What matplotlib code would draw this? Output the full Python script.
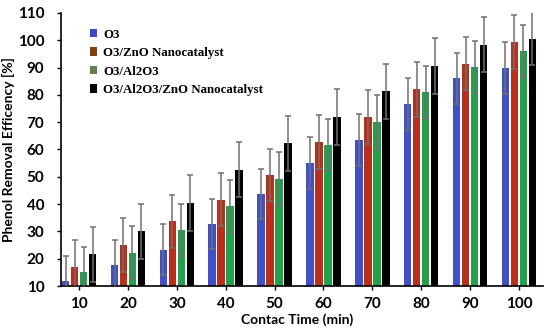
import numpy as np
import matplotlib.pyplot as plt
from matplotlib.patches import Patch

# contact time categories
times = ['10', '20', '30', '40', '50', '60', '70', '80', '90', '100']

# removal efficiency (%) and upper error bar tops
o3 = [11.8, 17.7, 23.3, 32.8, 43.7, 54.9, 63.6, 76.5, 86.0, 89.8]
o3_err = [9.2, 9.3, 9.3, 9.2, 9.3, 9.5, 9.5, 9.5, 9.4, 9.4]
zno = [17.0, 25.0, 33.8, 41.6, 50.8, 62.8, 71.9, 82.0, 91.4, 99.3]
zno_err = [9.8, 9.8, 9.7, 9.7, 9.5, 10.0, 9.8, 10.0, 9.8, 9.9]
al2o3 = [15.0, 22.3, 30.6, 39.3, 49.2, 61.8, 70.1, 81.0, 90.2, 95.9]
al2o3_err = [9.4, 9.7, 9.6, 9.7, 9.8, 9.5, 9.9, 9.7, 9.6, 9.5]
al_zno = [21.6, 30.0, 40.4, 52.6, 62.2, 71.8, 81.3, 90.5, 98.4, 100.6]
al_zno_err = [10.1, 10.0, 10.1, 10.1, 10.1, 10.2, 10.1, 10.2, 10.1, 9.7]

labels = ['O3', 'O3/ZnO Nanocatalyst', 'O3/Al2O3', 'O3/Al2O3/ZnO Nanocatalyst']
bar_colors = ['#3f51c4', '#b8301c', '#23a04c', '#000000']
legend_colors = ['#4048c8', '#7b3f10', '#5e8050', '#000000']

series = [o3, zno, al2o3, al_zno]
errors = [o3_err, zno_err, al2o3_err, al_zno_err]

fig = plt.figure(figsize=(5.5, 3.3), dpi=100)
ax = fig.add_axes([0.111, 0.133, 0.876, 0.828])

x = np.arange(len(times))
step = 0.184
width = 0.155
for i, (vals, errs) in enumerate(zip(series, errors)):
    pos = x + (i - 1.5) * step
    ax.bar(pos, vals, width=width, color=bar_colors[i], zorder=2)
    ax.errorbar(pos, vals, yerr=errs, fmt='none', ecolor='#707070',
                elinewidth=1.1, capsize=2.5, capthick=1.1, zorder=3)

ax.set_xlim(-0.37, 9.49)
ax.set_ylim(10, 110)
ax.set_yticks(range(10, 111, 10))
ax.set_xticks(x)
ax.set_xticklabels(times)

for lab in ax.get_xticklabels() + ax.get_yticklabels():
    lab.set_fontweight('bold')
    lab.set_fontsize(11)
    lab.set_fontfamily('Lato')
ax.tick_params(axis='both', direction='out', length=3, width=1)
ax.tick_params(axis='y', pad=9)
ax.tick_params(axis='x', pad=5)

for s in ['top', 'right']:
    ax.spines[s].set_visible(False)
for s in ['left', 'bottom']:
    ax.spines[s].set_linewidth(1.2)

ax.set_ylabel('Phenol Removal Efficency [%]', fontsize=10, fontweight='bold',
              fontfamily='Lato', labelpad=3)
ax.yaxis.set_label_coords(-0.095, 0.5)
ax.set_xlabel('Contac Time (min)', fontsize=10, fontweight='bold',
              fontfamily='Lato')
ax.xaxis.set_label_coords(0.49, -0.1)

handles = [Patch(facecolor=c, edgecolor='none') for c in legend_colors]
ax.legend(handles, labels, loc='upper left', bbox_to_anchor=(0.035, 0.985),
          frameon=False, handlelength=0.6, handleheight=0.6, handletextpad=0.45,
          labelspacing=0.5, prop={'family': 'Liberation Serif', 'weight': 'bold', 'size': 9.3})

fig.savefig('out.png', dpi=100)
